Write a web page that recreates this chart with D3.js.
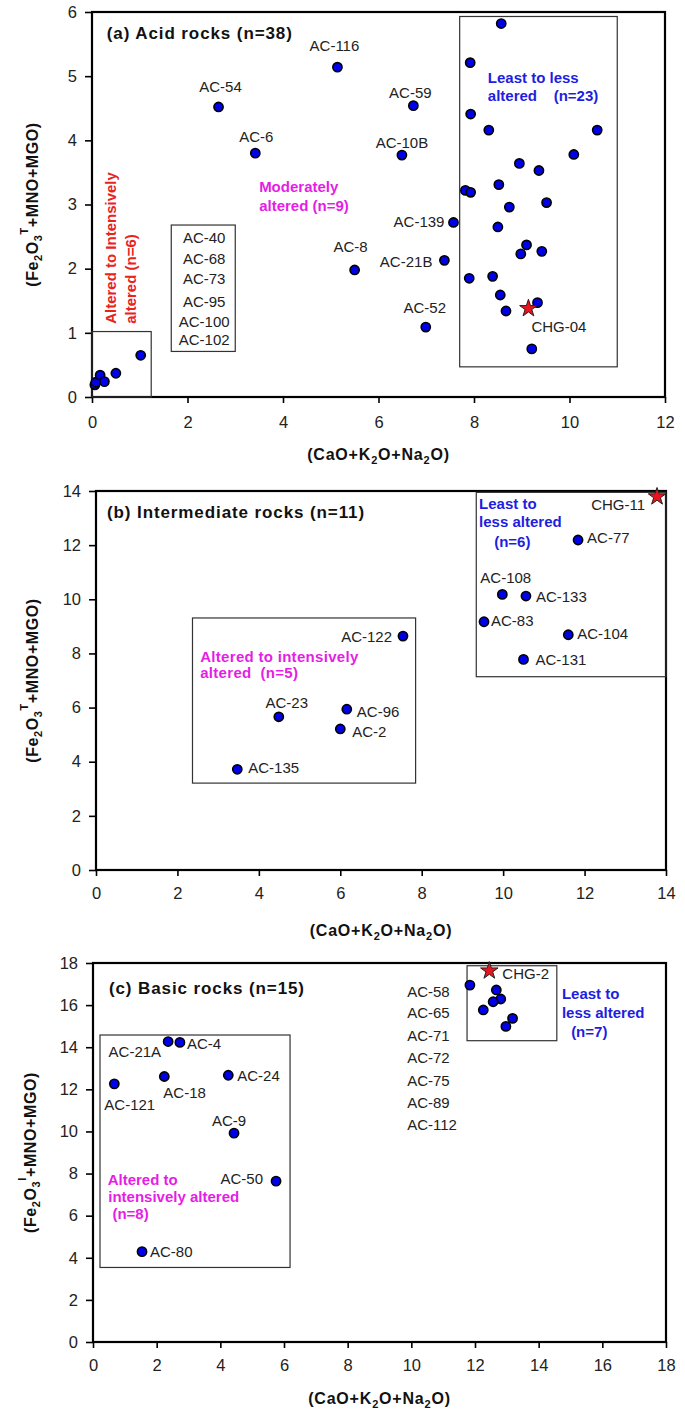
<!DOCTYPE html>
<html><head><meta charset="utf-8">
<script src="https://cdn.jsdelivr.net/npm/d3@7"></script>
<style>
html,body{margin:0;padding:0;background:#fff;}
svg text{font-family:"Liberation Sans",Arial,sans-serif;}
</style></head>
<body><svg id="chart" width="685" height="1417"></svg>
<script>
// ---------- DATA ----------
// (a) Acid rocks
const acidNamedLabels = ["AC-54","AC-6","AC-116","AC-59","AC-10B","AC-139","AC-8","AC-21B","AC-52"];
const acidNamedX = [2.65,3.42,5.14,6.73,6.49,7.57,5.50,7.38,6.99];
const acidNamedY = [4.52,3.80,5.14,4.54,3.77,2.72,1.98,2.13,1.09];
const acidLeastX = [8.57,7.92,7.93,8.31,10.58,10.09,8.95,9.36,8.52,7.82,7.93,9.52,8.74,8.50,9.10,9.42,8.98,7.90,8.39,8.55,9.33,8.67,9.21];
const acidLeastY = [5.82,5.21,4.41,4.16,4.16,3.78,3.64,3.53,3.31,3.22,3.19,3.03,2.96,2.65,2.37,2.27,2.23,1.85,1.88,1.59,1.47,1.34,0.75];
const acidAlteredX = [0.06,0.08,0.17,0.26,0.50,1.02];
const acidAlteredY = [0.19,0.23,0.34,0.24,0.37,0.65];
const acidAlteredList = ["AC-40","AC-68","AC-73","AC-95","AC-100","AC-102"];
const acidRef = {name:"CHG-04", x:9.14, y:1.38};

// (b) Intermediate rocks
const interNames = ["AC-77","AC-108","AC-133","AC-83","AC-104","AC-131","AC-122","AC-23","AC-96","AC-2","AC-135"];
const interX = [11.84,9.98,10.56,9.53,11.60,10.50,7.54,4.49,6.16,6.00,3.47];
const interY = [12.19,10.18,10.12,9.17,8.69,7.78,8.64,5.66,5.94,5.21,3.72];
const interRef = {name:"CHG-11", x:13.78, y:13.79};

// (c) Basic rocks
const basicNames = ["AC-21A","AC-4","AC-121","AC-18","AC-24","AC-9","AC-50","AC-80"];
const basicX = [2.36,2.73,0.67,2.24,4.25,4.43,5.75,1.54];
const basicY = [14.27,14.23,12.26,12.61,12.67,9.92,7.64,4.29];
const basicLeastX = [11.84,12.67,12.81,12.57,12.26,13.18,12.97];
const basicLeastY = [16.95,16.72,16.29,16.16,15.77,15.37,14.99];
const basicLeastList = ["AC-58","AC-65","AC-71","AC-72","AC-75","AC-89","AC-112"];
const basicRef = {name:"CHG-2", x:12.45, y:17.63};

const xTicksA = [0,2,4,6,8,10,12], yTicksA = [0,1,2,3,4,5,6];
const xTicksB = [0,2,4,6,8,10,12,14], yTicksB = [0,2,4,6,8,10,12,14];
const xTicksC = [0,2,4,6,8,10,12,14,16,18], yTicksC = [0,2,4,6,8,10,12,14,16,18];

// ---------- STYLE / LAYOUT ----------
const PT_FILL = "#0000e8", MAG = "#e41ee4", BLUE = "#1e1ee0", RED = "#e8231e";
const svg = d3.select("#chart");

// label placement: name -> [anchor, dx, dy]
const labelPos = {
  "AC-54":["middle",2,-20], "AC-6":["middle",1,-17], "AC-116":["middle",-3,-22],
  "AC-59":["middle",-3,-13], "AC-10B":["middle",0,-13], "AC-139":["end",-9,-1],
  "AC-8":["middle",-4,-23], "AC-21B":["end",-12,1], "AC-52":["middle",-1,-20],
  "CHG-04":["start",3,18],
  "CHG-11":["end",-12,8], "AC-77":["start",9,-2], "AC-108":["start",-22,-17],
  "AC-133":["start",10,0], "AC-83":["start",7,-1], "AC-104":["start",9,-1],
  "AC-131":["start",12,0], "AC-122":["end",-11,0], "AC-23":["middle",8,-14],
  "AC-96":["start",10,2], "AC-2":["start",12,3], "AC-135":["start",11,-2],
  "AC-21A":["end",-7,10], "AC-4":["start",7,1], "AC-24":["start",9,0],
  "AC-18":["start",-1,16], "AC-121":["start",-10,21], "AC-9":["middle",-5,-13],
  "AC-50":["end",-13,-3], "AC-80":["start",8,0], "CHG-2":["start",13,3]
};

function makePanel(cfg){
  const x = d3.scaleLinear().domain(cfg.xDomain).range([cfg.left, cfg.right]);
  const y = d3.scaleLinear().domain(cfg.yDomain).range([cfg.bottom, cfg.top]);
  const g = svg.append("g");
  const fmt = d3.format("d");
  // axes
  const ax = g.append("g").attr("transform",`translate(0,${cfg.bottom})`)
    .call(d3.axisBottom(x).tickValues(cfg.xTicks).tickFormat(fmt).tickSize(6).tickSizeOuter(0).tickPadding(cfg.xPad));
  const ay = g.append("g").attr("transform",`translate(${cfg.left},0)`)
    .call(d3.axisLeft(y).tickValues(cfg.yTicks).tickFormat(fmt).tickSize(7).tickSizeOuter(0).tickPadding(8));
  [ax,ay].forEach(a=>{
    a.select(".domain").remove();
    a.selectAll(".tick line").attr("stroke","#000").attr("stroke-width",1.6);
    a.selectAll(".tick text").attr("font-size",16.5).attr("fill","#222")
      .attr("font-family","'Liberation Sans',Arial,sans-serif");
  });
  // frame
  g.append("rect").attr("x",cfg.left).attr("y",cfg.top)
    .attr("width",cfg.right-cfg.left).attr("height",cfg.bottom-cfg.top)
    .attr("fill","none").attr("stroke","#000").attr("stroke-width",2.2);
  // group boxes
  cfg.boxes.forEach(b=>{
    g.append("rect").attr("x",x(b[0])).attr("y",y(b[3]))
      .attr("width",x(b[1])-x(b[0])).attr("height",y(b[2])-y(b[3]))
      .attr("fill","none").attr("stroke","#333").attr("stroke-width",1.2);
  });
  // x title
  const xt = g.append("text").attr("x",(cfg.left+cfg.right)/2).attr("y",cfg.xTitleY)
    .attr("text-anchor","middle").attr("font-size",16).attr("font-weight","bold")
    .attr("letter-spacing",0.8).attr("fill","#111");
  xt.append("tspan").text("(CaO+K");
  xt.append("tspan").attr("font-size",11).attr("dy",4).text("2");
  xt.append("tspan").attr("dy",-4).text("O+Na");
  xt.append("tspan").attr("font-size",11).attr("dy",4).text("2");
  xt.append("tspan").attr("dy",-4).text("O)");
  // y title
  const cy = (cfg.top+cfg.bottom)/2;
  const yt = g.append("text").attr("transform",`translate(${cfg.yTitleX},${cy}) rotate(-90)`)
    .attr("text-anchor","middle").attr("font-size",16).attr("font-weight","bold")
    .attr("letter-spacing",0.6).attr("fill","#111");
  yt.append("tspan").text("(Fe");
  yt.append("tspan").attr("font-size",11).attr("dy",4).text("2");
  yt.append("tspan").attr("dy",-4).text("O");
  yt.append("tspan").attr("font-size",11).attr("dy",4).text("3");
  yt.append("tspan").attr("font-size",11).attr("dy",-14).text(cfg.sup);
  yt.append("tspan").attr("dy",10).text("+MNO+MGO)");
  // panel title
  g.append("text").attr("x",x(cfg.title[1])).attr("y",y(cfg.title[2]))
    .attr("dominant-baseline","central").attr("font-size",17).attr("font-weight","bold")
    .attr("letter-spacing",0.9).attr("fill","#111").text(cfg.title[0]);
  // annotations
  cfg.notes.forEach(n=>{
    const t = g.append("text").attr("font-size",n.size||15).attr("font-weight",n.bold?"bold":"normal")
      .attr("fill",n.color).attr("dominant-baseline","central")
      .attr("text-anchor",n.anchor||"start")
      .attr("xml:space","preserve")
      .attr("letter-spacing",n.ls||0);
    if(n.rotate){
      t.attr("transform",`translate(${x(n.x)},${y(n.y)}) rotate(-90)`);
    } else {
      t.attr("x",x(n.x)).attr("y",y(n.y));
    }
    t.text(n.text);
  });
  // plain points
  cfg.points.forEach(p=>{
    g.append("circle").attr("cx",x(p[0])).attr("cy",y(p[1])).attr("r",4.6)
      .attr("fill",PT_FILL).attr("stroke","#000").attr("stroke-width",1.6);
  });
  // labelled points
  cfg.labelled.forEach(p=>{
    g.append("circle").attr("cx",x(p.x)).attr("cy",y(p.y)).attr("r",4.6)
      .attr("fill",PT_FILL).attr("stroke","#000").attr("stroke-width",1.6);
    const lp = labelPos[p.name];
    g.append("text").attr("x",x(p.x)+lp[1]).attr("y",y(p.y)+lp[2])
      .attr("text-anchor",lp[0]).attr("dominant-baseline","central")
      .attr("font-size",15).attr("fill","#222").text(p.name);
  });
  // reference star
  const r = cfg.ref;
  g.append("path").attr("d",d3.symbol(d3.symbolStar,95)())
    .attr("transform",`translate(${x(r.x)},${y(r.y)})`)
    .attr("fill","#e8141e").attr("stroke","#222").attr("stroke-width",1);
  const lp = labelPos[r.name];
  g.append("text").attr("x",x(r.x)+lp[1]).attr("y",y(r.y)+lp[2])
    .attr("text-anchor",lp[0]).attr("dominant-baseline","central")
    .attr("font-size",15).attr("fill","#222").text(r.name);
}

const zip = (a,b)=>a.map((v,i)=>[v,b[i]]);
const named = (n,xs,ys)=>n.map((v,i)=>({name:v,x:xs[i],y:ys[i]}));

// Panel (a)
makePanel({
  left:92,right:665,top:12,bottom:397, xDomain:[0,12], yDomain:[0,6],
  xTicks:xTicksA, yTicks:yTicksA, xPad:13, xTitleY:460, yTitleX:38, sup:"T",
  title:["(a) Acid rocks (n=38)",0.31,5.66],
  boxes:[[0,1.24,0,1.02],[1.66,3.0,0.71,2.68],[7.70,11.0,0.47,5.93]],
  notes:[
    {text:"Moderately",x:3.50,y:3.28,color:MAG,bold:true},
    {text:"altered (n=9)",x:3.50,y:2.99,color:MAG,bold:true},
    {text:"Least to less",x:8.29,y:4.98,color:BLUE,bold:true},
    {text:"altered    (n=23)",x:8.29,y:4.70,color:BLUE,bold:true},
    {text:"Altered to Intensively",x:0.38,y:1.14,color:RED,bold:true,rotate:true},
    {text:"altered (n=6)",x:0.80,y:1.14,color:RED,bold:true,rotate:true},
    ...acidAlteredList.map((t,i)=>({text:t,x:2.35,y:[2.49,2.16,1.84,1.49,1.18,0.89][i],color:"#222",anchor:"middle"}))
  ],
  points:[...zip(acidLeastX,acidLeastY),...zip(acidAlteredX,acidAlteredY)],
  labelled:named(acidNamedLabels,acidNamedX,acidNamedY),
  ref:acidRef
});

// Panel (b)
makePanel({
  left:96,right:666,top:491,bottom:870, xDomain:[0,14], yDomain:[0,14],
  xTicks:xTicksB, yTicks:yTicksB, xPad:11, xTitleY:936, yTitleX:38, sup:"T",
  title:["(b) Intermediate rocks (n=11)",0.27,13.22],
  boxes:[[2.37,7.85,3.21,9.31],[9.34,14,7.14,13.95]],
  notes:[
    {text:"Altered to intensively",x:2.56,y:7.90,color:MAG,bold:true,ls:0.3},
    {text:"altered  (n=5)",x:2.56,y:7.28,color:MAG,bold:true,ls:0.3},
    {text:"Least to",x:9.41,y:13.52,color:BLUE,bold:true},
    {text:"less altered",x:9.41,y:12.86,color:BLUE,bold:true},
    {text:"(n=6)",x:9.78,y:12.15,color:BLUE,bold:true}
  ],
  points:[],
  labelled:named(interNames,interX,interY),
  ref:interRef
});

// Panel (c)
makePanel({
  left:93,right:666,top:963,bottom:1342, xDomain:[0,18], yDomain:[0,18],
  xTicks:xTicksC, yTicks:yTicksC, xPad:11, xTitleY:1404, yTitleX:36, sup:"I",
  title:["(c) Basic rocks (n=15)",0.5,16.77],
  boxes:[[0.22,6.19,3.54,14.58],[11.75,14.57,14.31,17.87]],
  notes:[
    {text:"Altered to",x:0.46,y:7.70,color:MAG,bold:true},
    {text:"intensively altered",x:0.48,y:6.89,color:MAG,bold:true},
    {text:" (n=8)",x:0.48,y:6.08,color:MAG,bold:true},
    {text:"Least to",x:14.73,y:16.53,color:BLUE,bold:true},
    {text:"less altered",x:14.73,y:15.63,color:BLUE,bold:true},
    {text:"(n=7)",x:15.02,y:14.73,color:BLUE,bold:true},
    ...basicLeastList.map((t,i)=>({text:t,x:9.87,y:[16.64,15.64,14.57,13.51,12.40,11.39,10.34][i],color:"#222"}))
  ],
  points:zip(basicLeastX,basicLeastY),
  labelled:named(basicNames,basicX,basicY),
  ref:basicRef
});
</script></body></html>
